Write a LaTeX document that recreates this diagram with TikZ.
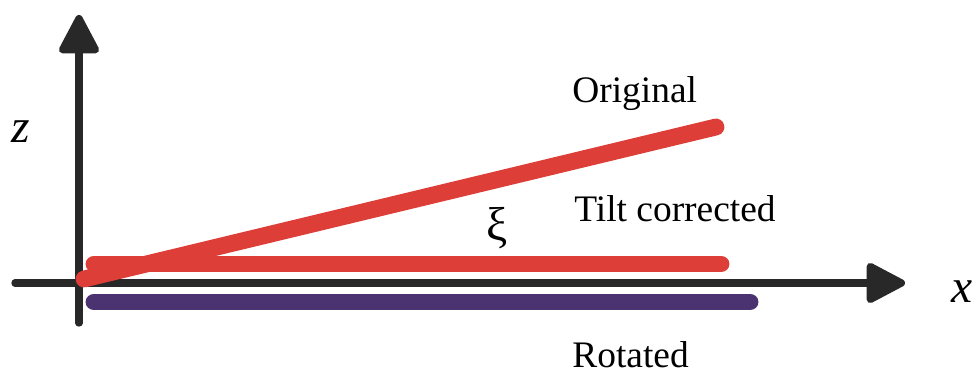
\documentclass[tikz,border=0pt]{standalone}
\usepackage{fontspec}
\setmainfont{Liberation Serif}
\usetikzlibrary{arrows.meta,positioning}
\definecolor{tiltred}{RGB}{221,62,56}
\definecolor{rotpurple}{RGB}{74,51,112}
\definecolor{axisgray}{RGB}{40,40,40}

\begin{document}
\begin{tikzpicture}[x=0.02cm, y=-0.02cm, >={Triangle[length=0.86cm, width=0.86cm, round]}, axis/.style={draw=axisgray, line width=4.2pt, line cap=round}, trace/.style={line width=9.6pt, line cap=round}, every node/.style={inner sep=0pt, font=\fontsize{21.3}{25}\selectfont}, axislab/.style={anchor=base west, font=\fontsize{27}{30}\selectfont\itshape}]
\useasboundingbox (0,0) rectangle (978,374);
% axes
\coordinate (origin) at (79,283);
\coordinate (zbot) at (79,323);
\coordinate (ztop) at (79,15);
\coordinate (xleft) at (15,283);
\coordinate (xright) at (905,283);
\draw[axis, ->] (zbot) -- (ztop);
\draw[axis, ->] (xleft) -- (xright);
\node[axislab] (zlab) at (11,143) {z};
\node[axislab] (xlab) at (951,303) {x};
% traces
\coordinate (orig0) at (84,279);
\coordinate (orig1) at (716,127);
\coordinate (tilt0) at (94,264);
\coordinate (tilt1) at (721,264);
\coordinate (rot0) at (94,302);
\coordinate (rot1) at (750,302);
\draw[trace, tiltred] (tilt0) -- (tilt1);
\draw[trace, tiltred] (orig0) -- (orig1);
\draw[trace, rotpurple] (rot0) -- (rot1);
% labels
\node[anchor=base west] (origlab) at (572,103) {Original};
\node[anchor=base west] (tiltlab) at (574,222) {Tilt corrected};
\node[anchor=base west] (rotlab) at (572,368) {Rotated};
\node[anchor=base west, font=\fontsize{27}{30}\selectfont] (xilab) at (486,241) {ξ};
\end{tikzpicture}
\end{document}
